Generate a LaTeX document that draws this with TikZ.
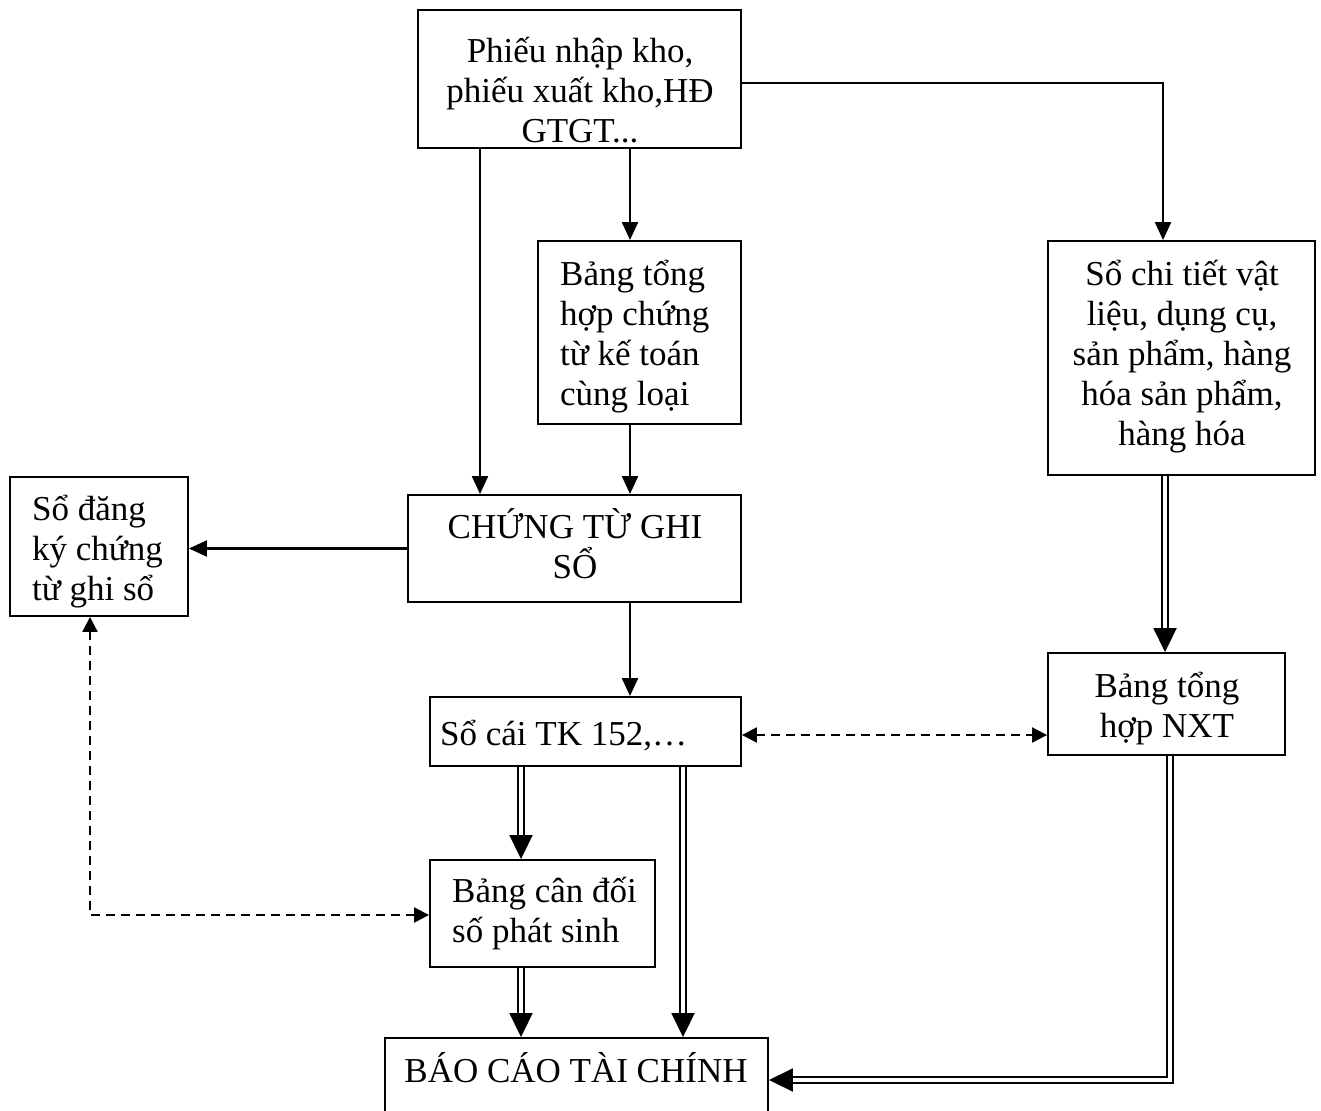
\documentclass[tikz,border=0pt]{standalone}
\usepackage{fontspec}
\setmainfont{Liberation Serif}
\usetikzlibrary{arrows.meta}
\newcommand{\myR}{\rule{0pt}{32pt}}
\tikzset{
  box/.style={draw, line width=1.9pt, inner sep=0pt, rectangle},
  txt/.style={inner sep=0pt, font=\fontsize{35}{40}\selectfont},
  arr/.style={line width=2.2pt, -{Triangle[length=18pt,width=16pt]}},
  dsh/.style={line width=2.2pt, dash pattern=on 9pt off 6pt},
  dtip/.style={{Triangle[length=15pt,width=15pt]}-{Triangle[length=15pt,width=15pt]}},
  dbl/.style={double, double distance=3.5pt, line width=1.9pt, -{Triangle[length=24pt,width=23pt]}},
}
\begin{document}
\begin{tikzpicture}[x=1pt,y=-1pt]
\useasboundingbox (0,0) rectangle (1321,1110);
% boxes
\node[box, minimum width=323pt, minimum height=138pt] (top) at (579.5,79) {};
\node[box, minimum width=203pt, minimum height=183pt] (bth) at (639.5,332.5) {};
\node[box, minimum width=267pt, minimum height=234pt] (sct) at (1181.5,358) {};
\node[box, minimum width=333pt, minimum height=107pt] (ctgs) at (574.5,548.5) {};
\node[box, minimum width=178pt, minimum height=139pt] (sdk) at (99,546.5) {};
\node[box, minimum width=311pt, minimum height=69pt] (sc) at (585.5,731.5) {};
\node[box, minimum width=237pt, minimum height=102pt] (nxt) at (1166.5,704) {};
\node[box, minimum width=225pt, minimum height=107pt] (bcd) at (542.5,913.5) {};
\node[box, minimum width=383pt, minimum height=80pt] (bctc) at (576.5,1078) {};
% texts
\node[txt, align=center, anchor=north] (ttop) at (580,30) {\myR Phiếu nhập kho,\\phiếu xuất kho,HĐ\\GTGT...};
\node[txt, align=left, anchor=north west] (tbth) at (560,253) {\myR Bảng tổng\\hợp chứng\\từ kế toán\\cùng loại};
\node[txt, align=center, anchor=north] (tsct) at (1182,253) {\myR Sổ chi tiết vật\\liệu, dụng cụ,\\sản phẩm, hàng\\hóa sản phẩm,\\hàng hóa};
\node[txt, align=center, anchor=north] (tctgs) at (575,506) {\myR CHỨNG TỪ GHI\\SỔ};
\node[txt, align=left, anchor=north west] (tsdk) at (32,488) {\myR Sổ đăng\\ký chứng\\từ ghi sổ};
\node[txt, align=left, anchor=north west] (tsc) at (440,713) {\myR Sổ cái TK 152,…};
\node[txt, align=center, anchor=north] (tnxt) at (1167,665) {\myR Bảng tổng\\hợp NXT};
\node[txt, align=left, anchor=north west] (tbcd) at (452,870) {\myR Bảng cân đối\\số phát sinh};
\node[txt, align=center, anchor=north] (tbctc) at (576,1050) {\myR BÁO CÁO TÀI CHÍNH};
% helper coordinates
\coordinate (cA) at (480,0);
\coordinate (cB) at (630,0);
\coordinate (r1) at (1163,83);
\coordinate (cC) at (1165,0);
\coordinate (d1) at (0,735);
\coordinate (d3) at (90,915);
\coordinate (cD) at (521,0);
\coordinate (cE) at (683,0);
\coordinate (e1) at (1170,1080);
% connectors
\draw[arr] (top.south -| cA) -- (ctgs.north -| cA);
\draw[arr] (top.south -| cB) -- (bth.north -| cB);
\draw[arr] (bth.south -| cB) -- (ctgs.north -| cB);
\draw[arr] (top.east |- r1) -- (r1) -- (sct.north -| r1);
\draw[arr] (ctgs.west) -- (ctgs.west -| sdk.east);
\draw[arr] (ctgs.south -| cB) -- (sc.north -| cB);
\draw[dbl] (sct.south -| cC) -- (nxt.north -| cC);
\draw[dsh, dtip] (sc.east |- d1) -- (nxt.west |- d1);
\draw[dsh, dtip] (sdk.south -| d3) -- (d3) -- (bcd.west |- d3);
\draw[dbl] (sc.south -| cD) -- (bcd.north -| cD);
\draw[dbl] (sc.south -| cE) -- (bctc.north -| cE);
\draw[dbl] (bcd.south -| cD) -- (bctc.north -| cD);
\draw[dbl] (nxt.south -| e1) -- (e1) -- (bctc.east |- e1);
\end{tikzpicture}
\end{document}
